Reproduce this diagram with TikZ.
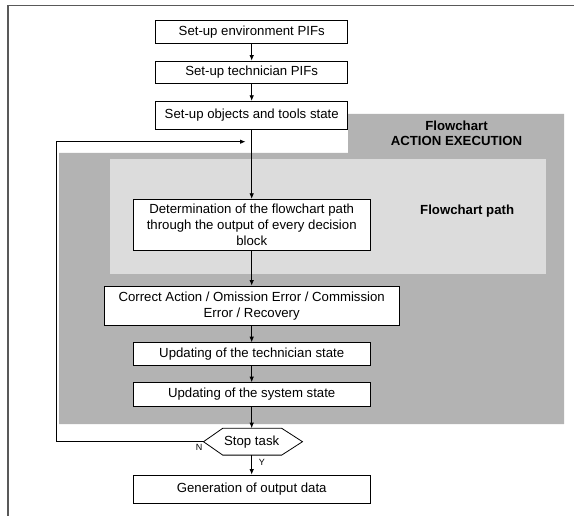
\documentclass[tikz,border=0pt]{standalone}
\usepackage{fontspec}
\setmainfont{Liberation Sans}
\usetikzlibrary{arrows.meta,calc}
\definecolor{dgray}{RGB}{179,179,179}
\definecolor{lgray}{RGB}{220,220,220}
\begin{document}
\begin{tikzpicture}[x=1pt,y=-1pt,
  box/.style={draw=black,line width=0.9pt,fill=white,inner sep=0pt,align=center,font=\fontsize{13.2}{15.8}\selectfont},
  conn/.style={line width=0.8pt,-{Latex[length=5.5pt,width=4.5pt]}},
  lbl/.style={font=\bfseries\fontsize{13.2}{15.8}\selectfont,align=center,inner sep=0pt},
  yn/.style={font=\fontsize{9}{10}\selectfont,inner sep=0pt}]
\useasboundingbox (0,0) rectangle (574,516);
% frame
\draw[black!65,line width=1.3pt] (8,516) -- (8,5.7) -- (574,5.7);
% backgrounds
\fill[dgray] (348,114) -- (564,114) -- (564,424) -- (59,424) -- (59,153) -- (348,153) -- cycle;
\fill[lgray] (110,159) rectangle (546,273.7);
\node[lbl] (ae) at (456.5,133.3) {Flowchart\\ACTION EXECUTION};
\node[lbl,anchor=west] (fp) at (420,210.7) {Flowchart path};
% boxes
\node[box,minimum width=192,minimum height=23] (b1) at (251.7,32.2) {Set-up environment PIFs};
\node[box,minimum width=192,minimum height=22.3] (b2) at (251.7,72.2) {Set-up technician PIFs};
\node[box,minimum width=192,minimum height=28] (b3) at (251.7,115.3) {Set-up objects and tools state};
\node[box,minimum width=237.4,minimum height=51.4] (b4) at (251.7,225) {Determination of the flowchart path\\through the output of every decision\\block};
\node[box,minimum width=295,minimum height=39.7] (b5) at (251.7,305.9) {Correct Action / Omission Error / Commission\\Error / Recovery};
\node[box,minimum width=237,minimum height=23] (b6) at (251.7,354.2) {Updating of the technician state};
\node[box,minimum width=237,minimum height=23.3] (b7) at (251.7,394.3) {Updating of the system state};
\node[inner sep=0pt,minimum width=97,minimum height=26.7,font=\fontsize{13.2}{15.8}\selectfont] (stop) at (251.7,441.7) {Stop task};
\draw[line width=0.8pt] ($(stop)+(-48.2,0)$) -- ($(stop)+(-29,-13.4)$) -- ($(stop)+(30,-13.4)$) -- ($(stop)+(50.8,0)$) -- ($(stop)+(30,13.4)$) -- ($(stop)+(-29,13.4)$) -- cycle;
\node[box,minimum width=237,minimum height=28.3] (gen) at (251.7,489.2) {Generation of output data};
% connectors
\draw[conn] (b1) -- (b2);
\draw[conn] (b2) -- (b3);
\draw[conn] (b3) -- (b4);
\draw[conn] (b4) -- (b5);
\draw[conn] (b5) -- (b6);
\draw[conn] (b6) -- (b7);
\draw[conn] (b7) -- (stop);
\draw[conn] (stop) -- (gen);
\coordinate (stopL) at ($(stop)+(-48.2,0)$);
\coordinate (loopc) at (56,141.7);
\coordinate (merge) at (245.5,141.7);
\draw[conn] (stopL) -| (loopc) -- (merge);
\node[yn] (nl) at (199,447.3) {N};
\node[yn] (yl) at (262,462.7) {Y};
\end{tikzpicture}
\end{document}
